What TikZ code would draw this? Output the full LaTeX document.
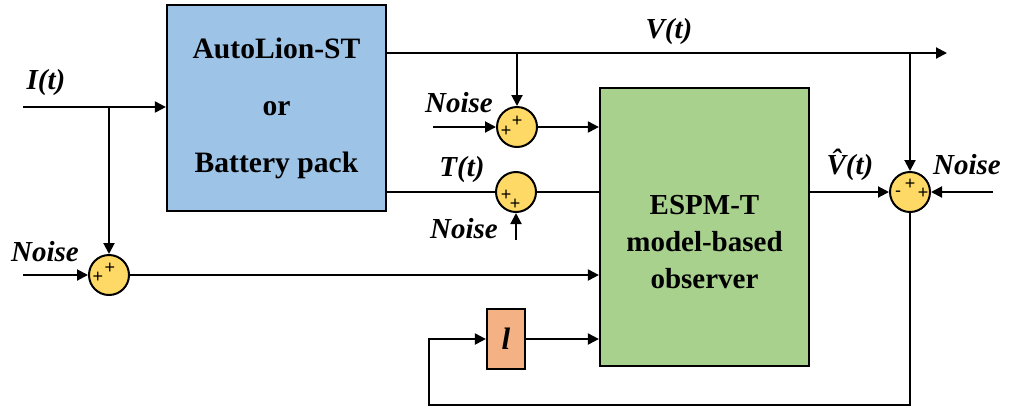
\documentclass[tikz,border=0pt]{standalone}
\usepackage{fontspec}
\setmainfont{Liberation Serif}
\newfontfamily\signfont{Liberation Sans}
\usetikzlibrary{arrows.meta}
\definecolor{estBlue}{HTML}{9DC3E6}
\definecolor{estGreen}{HTML}{A9D18E}
\definecolor{estOrange}{HTML}{F4B183}
\definecolor{estGold}{HTML}{FFD966}
\tikzset{
  est block/.style={draw=black, line width=1.1pt, inner sep=0pt, align=center},
  est sum/.style={circle, draw=black, fill=estGold, line width=1pt, minimum size=20pt, inner sep=0pt},
  est sign/.style={font=\signfont\fontsize{9}{9}\selectfont, inner sep=0pt},
  est label/.style={font=\fontsize{14.5}{16}\selectfont\bfseries\itshape, inner sep=0pt},
  est line/.style={draw=black, line width=1pt},
  est arrow/.style={est line, -{Triangle[length=5.5pt,width=5.5pt]}},
}
\begin{document}
\begin{tikzpicture}[x=0.5pt,y=-0.5pt]
\useasboundingbox (0,0) rectangle (1011,409);
% blocks
\node[est block, fill=estBlue, minimum width=109.5pt, minimum height=103pt, font=\fontsize{14.8}{28.5}\selectfont\bfseries] (batt) at (276.5,108) {AutoLion-ST\\or\\Battery pack};
\node[est block, fill=estGreen, minimum width=104.5pt, minimum height=139pt] (espm) at (704.5,227) {};
\node[font=\fontsize{14.5}{18.5}\selectfont\bfseries, align=center, inner sep=0pt] (espmtxt) at (704.5,242) {ESPM-T\\model-based\\observer};
\node[est block, fill=estOrange, minimum width=19pt, minimum height=30pt, font=\fontsize{15.5}{16}\selectfont\bfseries\itshape] (gain) at (506,339) {l};
% summing junctions
\node[est sum] (sumI) at (109,275) {};
\node[est sum] (sumV) at (517,127) {};
\node[est sum] (sumT) at (516,192) {};
\node[est sum] (sumOut) at (910,192) {};
\foreach \s/\dx/\dy/\t in {sumI/-11/2/+, sumI/1/-7/+, sumV/-11/4/+, sumV/0/-6/+, sumT/-10/3/+, sumT/-1/12/+, sumOut/-12/2/-, sumOut/0/-8/+, sumOut/13/1/+}
  {\node[est sign] at ([shift={(\dx,\dy)}]\s) {\t};}
% free ends
\coordinate (iin) at (23,107); \coordinate (ibr) at (109,107);
\coordinate (vout) at (947,53); \coordinate (vbrV) at (517,53); \coordinate (vbrOut) at (910,53);
\coordinate (nI) at (23,275); \coordinate (nV) at (433,127); \coordinate (nT) at (516,240); \coordinate (nOut) at (993,192);
\coordinate (fbR) at (910,405); \coordinate (fbL) at (429,405); \coordinate (fbU) at (429,339);
% connectors
\draw[est arrow] (iin) -- (iin -| batt.west);
\draw[est arrow] (ibr) -- (sumI.north);
\draw[est arrow] (nI) -- (sumI.west);
\draw[est arrow] (sumI.east) -- (sumI -| espm.west);
\draw[est arrow] (vout -| batt.east) -- (vout);
\draw[est arrow] (vbrV) -- (sumV.north);
\draw[est arrow] (nV) -- (sumV.west);
\draw[est arrow] (sumV.east) -- (sumV -| espm.west);
\draw[est line] (sumT -| batt.east) -- (sumT.west);
\draw[est line] (sumT.east) -- (sumT -| espm.west);
\draw[est arrow] (nT) -- (sumT.south);
\draw[est arrow] (sumOut -| espm.east) -- (sumOut.west);
\draw[est arrow] (vbrOut) -- (sumOut.north);
\draw[est arrow] (nOut) -- (sumOut.east);
\draw[est arrow] (sumOut.south) -- (fbR) -- (fbL) -- (fbU) -- (gain.west);
\draw[est arrow] (gain.east) -- (gain -| espm.west);
% labels
\node[est label] (lblI) at (46,83) {I(t)};
\node[est label] (lblV) at (669,32) {V(t)};
\node[est label] (lblNV) at (459,103) {Noise};
\node[est label] (lblT) at (462,170) {T(t)};
\node[est label] (lblNT) at (464,229) {Noise};
\node[est label] (lblVh) at (850,165) {\^{V}(t)};
\node[est label] (lblNOut) at (967,165) {Noise};
\node[est label] (lblNI) at (45,252) {Noise};
\end{tikzpicture}
\end{document}
